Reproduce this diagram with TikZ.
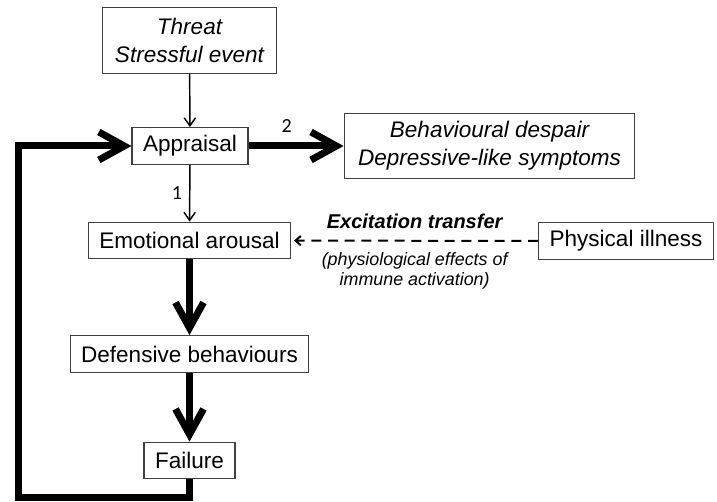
\documentclass[tikz,border=0pt]{standalone}
\usepackage{fontspec}
\setmainfont{Liberation Sans}
\newfontfamily\numfont{Carlito}
\usepackage{tikz}
\usetikzlibrary{calc}
\usetikzlibrary{arrows.meta, positioning}

\begin{document}
\begin{tikzpicture}[x=0.75pt, y=-0.75pt,
	box/.style = {draw=black!75, line width=0.9pt, inner xsep=8.25pt, inner ysep=0pt,
		minimum height=27.5pt, align=center, font=\fontsize{16.9}{21}\selectfont},
	twoline/.style = {box, minimum height=49pt, font=\fontsize{16.9}{21}\selectfont\itshape},
	thin/.style = {line width=1.1pt, -{Straight Barb[length=6pt,width=8.5pt]}},
	heavy/.style = {line width=5.25pt, -{Straight Barb[length=19pt,width=21pt]}},
	link/.style = {line width=1.5pt, dash pattern=on 7.5pt off 5pt,
		-{Straight Barb[length=4pt,width=7pt]}, shorten >=2pt},
	num/.style = {font=\numfont\fontsize{15}{15}\selectfont}]
		\useasboundingbox (0,0) rectangle (717,502);
		\node[twoline, minimum width=130pt] (threat) at (189.5,40.5) {Threat\\Stressful event};
		\node[box] (appraisal) at (190,146) {Appraisal};
		\node[twoline, minimum width=218pt] (despair) at (489.5,146) {Behavioural despair\\Depressive-like symptoms};
		\node[box] (arousal) at (189.5,240.5) {Emotional arousal};
		\node[box] (illness) at (626,241) {Physical illness};
		\node[box] (defence) at (189.5,354) {Defensive behaviours};
		\node[box] (failure) at (189.5,460.5) {Failure};
		\coordinate (loop) at (18.5,497);
	
		\draw [thin] (threat) -- (appraisal);
		\draw [thin] (appraisal) -- node[num, left=2pt] {1} (arousal);
		\draw [heavy] (appraisal) -- node[num, above=4pt, pos=0.4] {2} (despair);
		\draw [heavy] (arousal) -- (defence);
		\draw [heavy] (defence) -- (failure);
		\draw [heavy] (failure.south) |- (loop) |- (appraisal.west);
		
		\draw [link] (illness) -- node[above=5pt, font=\fontsize{15}{15}\selectfont\bfseries\itshape] {Excitation transfer}
			node[below=5pt, align=center, font=\fontsize{13.4}{15}\selectfont\itshape] {(physiological effects of\\immune activation)} (arousal);
		
		\end{tikzpicture}
\end{document}
